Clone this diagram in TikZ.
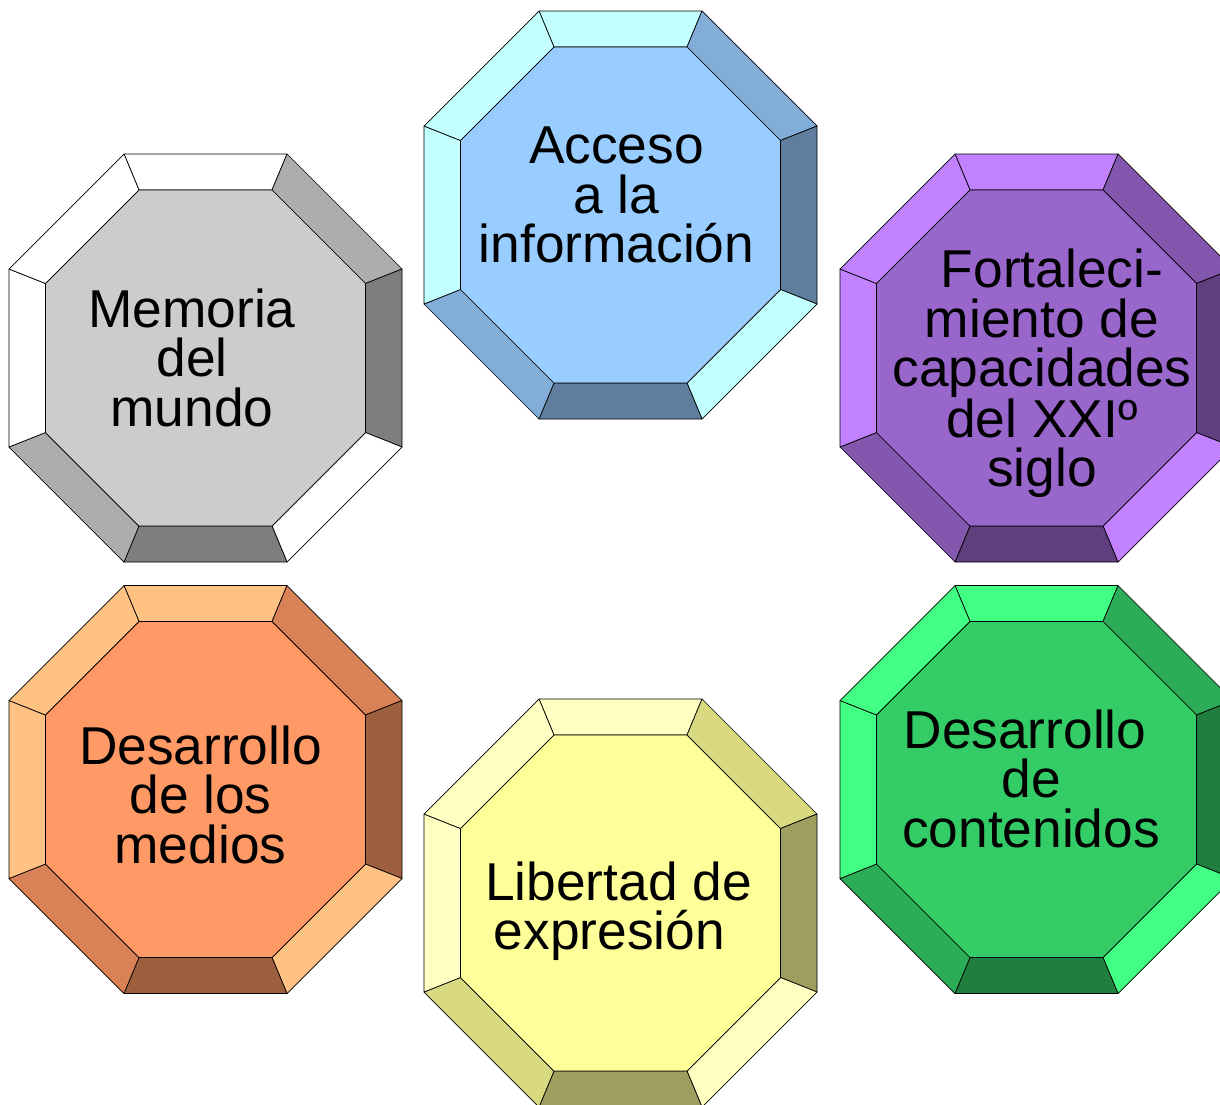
\documentclass[tikz,border=0pt]{standalone}
\usepackage{fontspec}
\setmainfont{Liberation Sans}
\definecolor{gemGrey}{RGB}{204,204,204}
\definecolor{gemGreyLight}{RGB}{255,255,255}
\definecolor{gemGreyMid}{RGB}{173,173,173}
\definecolor{gemGreyDark}{RGB}{126,126,126}
\definecolor{gemBlue}{RGB}{153,204,255}
\definecolor{gemBlueLight}{RGB}{194,255,255}
\definecolor{gemBlueMid}{RGB}{130,173,217}
\definecolor{gemBlueDark}{RGB}{95,126,158}
\definecolor{gemPurple}{RGB}{153,102,204}
\definecolor{gemPurpleLight}{RGB}{194,130,255}
\definecolor{gemPurpleMid}{RGB}{130,87,173}
\definecolor{gemPurpleDark}{RGB}{95,63,126}
\definecolor{gemOrange}{RGB}{255,153,102}
\definecolor{gemOrangeLight}{RGB}{255,194,130}
\definecolor{gemOrangeMid}{RGB}{217,130,87}
\definecolor{gemOrangeDark}{RGB}{158,95,63}
\definecolor{gemYellow}{RGB}{255,255,153}
\definecolor{gemYellowLight}{RGB}{255,255,194}
\definecolor{gemYellowMid}{RGB}{217,217,130}
\definecolor{gemYellowDark}{RGB}{158,158,95}
\definecolor{gemGreen}{RGB}{51,204,102}
\definecolor{gemGreenLight}{RGB}{65,255,130}
\definecolor{gemGreenMid}{RGB}{43,173,87}
\definecolor{gemGreenDark}{RGB}{32,126,63}
\tikzset{
  gemface/.style={
    draw=black,
    line width=0.7pt,
    line join=round
  },
  gemtext/.style={
    align=center,
    inner sep=0pt,
    font=\fontsize{53.3}{49.5}\selectfont
  }
}
% beveled octagon: #1 centre, #2 colour name
\newcommand{\drawgem}[2]{%
  \begin{scope}[shift={(#1)}]
    \coordinate (o1) at (-81.5,-204);  \coordinate (o2) at (81.5,-204);
    \coordinate (o3) at (196.5,-89);   \coordinate (o4) at (196.5,89);
    \coordinate (o5) at (81.5,204);    \coordinate (o6) at (-81.5,204);
    \coordinate (o7) at (-196.5,89);   \coordinate (o8) at (-196.5,-89);
    \coordinate (i1) at (-66.5,-168);  \coordinate (i2) at (66.5,-168);
    \coordinate (i3) at (160,-74.5);   \coordinate (i4) at (160,74.5);
    \coordinate (i5) at (66.5,168);    \coordinate (i6) at (-66.5,168);
    \coordinate (i7) at (-160,74.5);   \coordinate (i8) at (-160,-74.5);
    \filldraw[gemface, fill=#2Light] (o1) -- (o2) -- (i2) -- (i1) -- cycle;
    \filldraw[gemface, fill=#2Mid]   (o2) -- (o3) -- (i3) -- (i2) -- cycle;
    \filldraw[gemface, fill=#2Dark]  (o3) -- (o4) -- (i4) -- (i3) -- cycle;
    \filldraw[gemface, fill=#2Light] (o4) -- (o5) -- (i5) -- (i4) -- cycle;
    \filldraw[gemface, fill=#2Dark]  (o5) -- (o6) -- (i6) -- (i5) -- cycle;
    \filldraw[gemface, fill=#2Mid]   (o6) -- (o7) -- (i7) -- (i6) -- cycle;
    \filldraw[gemface, fill=#2Light] (o7) -- (o8) -- (i8) -- (i7) -- cycle;
    \filldraw[gemface, fill=#2Light] (o8) -- (o1) -- (i1) -- (i8) -- cycle;
    \filldraw[gemface, fill=#2] (i1) -- (i2) -- (i3) -- (i4) -- (i5) -- (i6) -- (i7) -- (i8) -- cycle;
  \end{scope}}

\begin{document}
\begin{tikzpicture}[x=1pt, y=-1pt]
  \clip (0,0) rectangle (1220,1104);

  \coordinate (memoriaC) at (205.5,358);
  \coordinate (accesoC) at (620.5,215);
  \coordinate (fortaC) at (1036.5,358);
  \coordinate (mediosC) at (205.5,789.5);
  \coordinate (libertadC) at (620.5,903);
  \coordinate (contenidosC) at (1036.5,789.5);

  \drawgem{memoriaC}{gemGrey}
  \drawgem{accesoC}{gemBlue}
  \drawgem{fortaC}{gemPurple}
  \drawgem{mediosC}{gemOrange}
  \drawgem{libertadC}{gemYellow}
  \drawgem{contenidosC}{gemGreen}

  \node[gemtext] (memoria) at (192,357.5) {Memoria\\del\\mundo};
  \node[gemtext] (acceso) at (616.5,195) {Acceso\\a la\\información};
  \node[gemtext] (forta) at (1042,373.5)
    {\hspace*{20pt}Fortaleci-\\miento de\\capacidades\\del XXIº\\siglo};
  \node[gemtext] (medios) at (200.5,794.5) {Desarrollo\\de los\\medios};
  \node[gemtext] (libertad) at (618.5,911) {Libertad de\\expresión\hspace*{18pt}};
  \node[gemtext] (contenidos) at (1031,778.5) {Desarrollo\hspace*{12pt}\\de\\contenidos};
\end{tikzpicture}
\end{document}
